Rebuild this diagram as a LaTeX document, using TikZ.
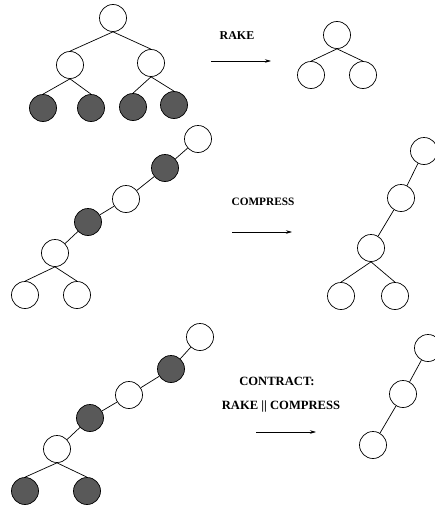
\documentclass[tikz,border=0pt]{standalone}
\usepackage{fontspec}
\setmainfont{Liberation Serif}
\usetikzlibrary{arrows.meta}
\definecolor{darkfill}{gray}{0.35}
\tikzset{
    vtx/.style={circle, draw, line width=0.7pt, minimum size=27pt, inner sep=0pt},
    dark/.style={vtx, fill=darkfill},
    op/.style={font=\bfseries\fontsize{12}{14}\selectfont},
    oparrow/.style={-{Stealth[length=6pt,width=3.5pt]}, line width=0.6pt},
}

\begin{document}
\begin{tikzpicture}[x=1pt, y=-1pt, line width=0.7pt]
    \clip (0,0) rectangle (435,506);
    % rake: tree before
    \node[vtx] (ra) at (113,18) {};
    \node[vtx] (rb) at (70,65) {};
    \node[vtx] (rc) at (151,63) {};
    \node[dark] (rd) at (43,108) {};
    \node[dark] (re) at (91,108) {};
    \node[dark] (rf) at (133,107) {};
    \node[dark] (rg) at (174,105) {};
    \draw (ra.south) -- (rb.north);
    \draw (ra.south) -- (rc.north);
    \draw (rb.south) -- (rd.north);
    \draw (rb.south) -- (re.north);
    \draw (rc.south) -- (rf.north);
    \draw (rc.south) -- (rg.north);
    % rake: operation
    \node[op] (rakelbl) at (237,36) {RAKE};
    \coordinate (rakefrom) at (211,61);
    \coordinate (raketo) at (271,61);
    \draw[oparrow] (rakefrom) -- (raketo);
    % rake: tree after
    \node[vtx] (sa) at (337,35) {};
    \node[vtx] (sb) at (311,75) {};
    \node[vtx] (sc) at (363,75) {};
    \draw (sa.south) -- (sb.north);
    \draw (sa.south) -- (sc.north);

    % compress: tree before
    \node[vtx] (ca) at (198,139) {};
    \node[dark] (cb) at (165,168) {};
    \node[vtx] (cc) at (126,199) {};
    \node[dark] (cd) at (88,222) {};
    \node[vtx] (ce) at (55,253) {};
    \node[vtx] (cf) at (25,295) {};
    \node[vtx] (cg) at (77,295) {};
    \draw (ca) -- (cb);
    \draw (cb) -- (cc);
    \draw (cc) -- (cd);
    \draw (cd) -- (ce);
    \draw (ce.south) -- (cf.north);
    \draw (ce.south) -- (cg.north);
    % compress: operation
    \node[op, font=\bfseries\fontsize{11.3}{13}\selectfont] (complbl) at (263,202) {COMPRESS};
    \coordinate (compfrom) at (232,232);
    \coordinate (compto) at (292,232);
    \draw[oparrow] (compfrom) -- (compto);
    % compress: tree after
    \node[vtx] (da) at (424,151) {};
    \node[vtx] (db) at (401,198) {};
    \node[vtx] (dc) at (371,248) {};
    \node[vtx] (dd) at (341,296) {};
    \node[vtx] (de) at (395,296) {};
    \draw (da) -- (db);
    \draw (db) -- (dc);
    \draw (dc.south) -- (dd.north);
    \draw (dc.south) -- (de.north);

    % contract: tree before
    \node[vtx] (ka) at (200,337) {};
    \node[dark] (kb) at (171,369) {};
    \node[vtx] (kc) at (129,395) {};
    \node[dark] (kd) at (90,418) {};
    \node[vtx] (ke) at (57,449) {};
    \node[dark] (kf) at (25,491) {};
    \node[dark] (kg) at (87,491) {};
    \draw (ka) -- (kb);
    \draw (kb) -- (kc);
    \draw (kc) -- (kd);
    \draw (kd) -- (ke);
    \draw (ke.south) -- (kf.north);
    \draw (ke.south) -- (kg.north);
    % contract: operation
    \node[op, font=\bfseries\fontsize{12.6}{15}\selectfont] (contlbl) at (277,381) {CONTRACT:};
    \node[op, font=\bfseries\fontsize{12.6}{15}\selectfont] (parlbl) at (281,406) {RAKE || COMPRESS};
    \coordinate (contfrom) at (256,432);
    \coordinate (contto) at (316,432);
    \draw[oparrow] (contfrom) -- (contto);
    % contract: tree after
    \node[vtx] (la) at (428,348) {};
    \node[vtx] (lb) at (403,394) {};
    \node[vtx] (lc) at (373,445) {};
    \draw (la) -- (lb);
    \draw (lb) -- (lc);
\end{tikzpicture}
\end{document}
